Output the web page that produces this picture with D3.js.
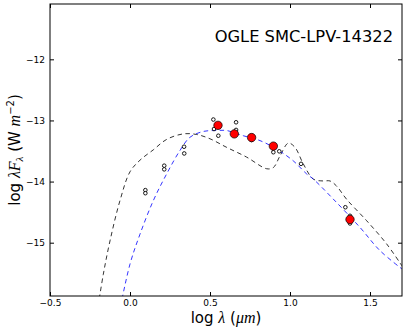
<!DOCTYPE html>
<html>
<head>
<meta charset="utf-8">
<script src="https://cdn.jsdelivr.net/npm/d3@7"></script>
<style>
  body { margin: 0; background: #fff; }
  svg { font-family: "DejaVu Sans", sans-serif; }
</style>
</head>
<body>
<svg id="sed"></svg>
<script>
const width = 407, height = 332;
const margin = {left: 50, top: 4, right: 5, bottom: 36};

// photometry: large red points (mean fluxes)
const redX = [0.55, 0.652, 0.76, 0.896, 1.375];
const redY = [-13.08, -13.22, -13.28, -13.42, -14.62];

// photometry: small open circles (individual measurements)
const obsX = [0.096, 0.096, 0.214, 0.214, 0.338, 0.339, 0.521, 0.525, 0.552, 0.663, 0.663,
              0.76, 0.896, 0.933, 1.069, 1.346, 1.375, 1.375];
const obsY = [-14.14, -14.19, -13.74, -13.80, -13.43, -13.54, -12.985, -13.14, -13.25, -13.03, -13.155,
              -13.32, -13.52, -13.505, -13.71, -14.42, -14.56, -14.685];

// model 1 (black dashed)
const model1X = [-0.20, -0.167, -0.125, -0.0625, 0.0, 0.0625, 0.146, 0.229, 0.333, 0.417, 0.5, 0.604,
                 0.729, 0.854, 0.896, 0.9375, 0.99, 1.031, 1.083, 1.146, 1.208, 1.25, 1.29, 1.354,
                 1.479, 1.604, 1.70];
const model1Y = [-16.05, -15.52, -14.97, -14.31, -13.84, -13.65, -13.48, -13.31, -13.22, -13.23, -13.30, -13.44,
                 -13.60, -13.79, -13.77, -13.58, -13.37, -13.44, -13.71, -13.96, -13.99, -13.99, -14.07, -14.29,
                 -14.64, -15.02, -15.38];

// model 2 (blue dashed)
const model2X = [-0.06, 0.0, 0.0625, 0.146, 0.229, 0.3125, 0.375, 0.458, 0.542, 0.604, 0.708, 0.8125,
                 0.917, 1.02, 1.104, 1.146, 1.27, 1.4375, 1.5625, 1.70];
const model2Y = [-16.05, -15.35, -14.86, -14.31, -13.875, -13.49, -13.275, -13.18, -13.165, -13.165, -13.25, -13.33,
                 -13.47, -13.66, -13.875, -13.96, -14.285, -14.75, -15.13, -15.43];

const xTicks = [-0.5, 0.0, 0.5, 1.0, 1.5];
const yTicks = [-15, -14, -13, -12];
const title = "OGLE SMC-LPV-14322";

const svg = d3.select("#sed")
  .attr("width", width)
  .attr("height", height);

const x = d3.scaleLinear().domain([-0.5, 1.7]).range([margin.left, width - margin.right]);
const y = d3.scaleLinear().domain([-15.872, -11.095]).range([height - margin.bottom, margin.top]);

const fmt = d => d3.format(".1f")(d).replace("-", "\u2212");
const fmtY = d => String(d).replace("-", "\u2212");

// clip to plot area
svg.append("clipPath").attr("id", "clip")
  .append("rect")
  .attr("x", x.range()[0]).attr("y", y.range()[1])
  .attr("width", x.range()[1] - x.range()[0])
  .attr("height", y.range()[0] - y.range()[1]);

// axes, ticks pointing inward
const axB = svg.append("g")
  .attr("transform", "translate(0," + y.range()[0] + ")")
  .call(d3.axisBottom(x).tickValues(xTicks).tickFormat(fmt).tickSize(-4).tickPadding(4));
const axT = svg.append("g")
  .attr("transform", "translate(0," + y.range()[1] + ")")
  .call(d3.axisTop(x).tickValues(xTicks).tickFormat("").tickSize(-4));
const axL = svg.append("g")
  .attr("transform", "translate(" + x.range()[0] + ",0)")
  .call(d3.axisLeft(y).tickValues(yTicks).tickFormat(fmtY).tickSize(-4).tickPadding(5));
const axR = svg.append("g")
  .attr("transform", "translate(" + x.range()[1] + ",0)")
  .call(d3.axisRight(y).tickValues(yTicks).tickFormat("").tickSize(-4));

[axB, axT, axL, axR].forEach(g => {
  g.select(".domain").remove();
  g.selectAll("text").attr("font-size", 9).attr("font-family", "DejaVu Sans").attr("fill", "#000");
  g.selectAll("line").attr("stroke", "#000");
});

// model curves
const line = d3.line()
  .x(d => x(d[0]))
  .y(d => y(d[1]))
  .curve(d3.curveCatmullRom);

const plot = svg.append("g").attr("clip-path", "url(#clip)");

plot.append("path")
  .datum(model1X.map((v, i) => [v, model1Y[i]]))
  .attr("d", line)
  .attr("fill", "none")
  .attr("stroke", "#000")
  .attr("stroke-width", 0.8)
  .attr("stroke-dasharray", "4.5,3.5");

plot.append("path")
  .datum(model2X.map((v, i) => [v, model2Y[i]]))
  .attr("d", line)
  .attr("fill", "none")
  .attr("stroke", "#0000ff")
  .attr("stroke-width", 0.8)
  .attr("stroke-dasharray", "4.5,3.5");

// individual measurements
plot.selectAll("circle.obs")
  .data(obsX.map((v, i) => [v, obsY[i]]))
  .join("circle")
  .attr("class", "obs")
  .attr("cx", d => x(d[0]))
  .attr("cy", d => y(d[1]))
  .attr("r", 1.8)
  .attr("fill", "#fff")
  .attr("stroke", "#000")
  .attr("stroke-width", 0.9);

// mean points
plot.selectAll("circle.mean")
  .data(redX.map((v, i) => [v, redY[i]]))
  .join("circle")
  .attr("class", "mean")
  .attr("cx", d => x(d[0]))
  .attr("cy", d => y(d[1]))
  .attr("r", 4.2)
  .attr("fill", "#ff0000")
  .attr("stroke", "#000")
  .attr("stroke-width", 0.7);

// frame
svg.append("rect")
  .attr("x", x.range()[0]).attr("y", y.range()[1])
  .attr("width", x.range()[1] - x.range()[0])
  .attr("height", y.range()[0] - y.range()[1])
  .attr("fill", "none")
  .attr("stroke", "#000")
  .attr("stroke-width", 1);

// title inside the plot
svg.append("text")
  .attr("x", 393)
  .attr("y", 42)
  .attr("text-anchor", "end")
  .attr("font-size", 16.3)
  .text(title);

// x label
const xl = svg.append("text")
  .attr("x", (x.range()[0] + x.range()[1]) / 2)
  .attr("y", 323)
  .attr("text-anchor", "middle")
  .attr("font-size", 15);
xl.append("tspan").text("log ");
xl.append("tspan").attr("font-family", "Liberation Serif").attr("font-style", "italic").attr("font-size", 16).text("\u03bb");
xl.append("tspan").text(" (");
xl.append("tspan").attr("font-family", "Liberation Serif").attr("font-style", "italic").attr("font-size", 16).text("\u03bcm");
xl.append("tspan").text(")");

// y label
const yl = svg.append("text")
  .attr("transform", "translate(20," + ((y.range()[0] + y.range()[1]) / 2) + ") rotate(-90)")
  .attr("text-anchor", "middle")
  .attr("font-size", 15);
yl.append("tspan").text("log ");
yl.append("tspan").attr("font-family", "Liberation Serif").attr("font-style", "italic").attr("font-size", 16).text("\u03bbF");
yl.append("tspan").attr("font-family", "Liberation Serif").attr("font-style", "italic").attr("font-size", 11).attr("dy", 3).text("\u03bb");
yl.append("tspan").attr("dy", -3).text(" (W ");
yl.append("tspan").attr("font-family", "Liberation Serif").attr("font-style", "italic").attr("font-size", 16).text("m");
yl.append("tspan").attr("font-size", 10).attr("dy", -6).text("\u22122");
yl.append("tspan").attr("dy", 6).text(")");
</script>
</body>
</html>
